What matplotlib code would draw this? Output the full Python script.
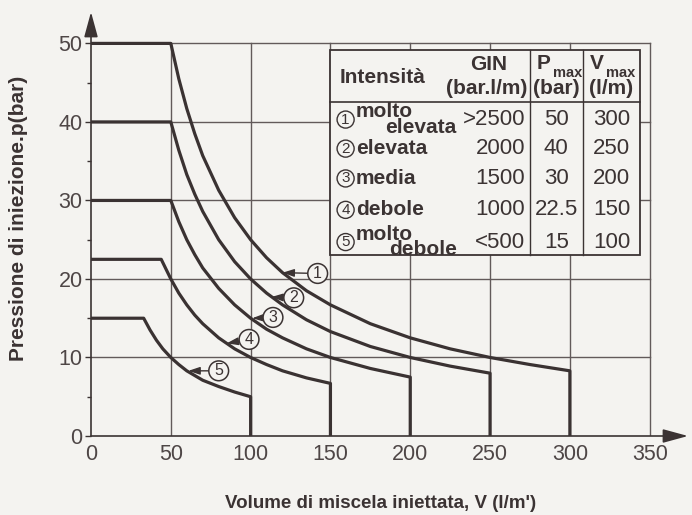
import matplotlib
matplotlib.use("Agg")
import matplotlib.pyplot as plt
from matplotlib.patches import Rectangle

plt.rcParams['font.family'] = ['Liberation Sans', 'DejaVu Sans']

# curves: V (l/m) and p (bar)
v1 = [0, 50, 55, 60, 65, 70, 80, 90, 100, 110, 120, 135, 150, 175, 200, 225, 250, 275, 300, 300]
p1 = [50, 50, 45.5, 41.7, 38.5, 35.7, 31.3, 27.8, 25, 22.7, 20.8, 18.5, 16.7, 14.3, 12.5, 11.1, 10, 9.1, 8.3, 0]
v2 = [0, 50, 55, 60, 65, 70, 80, 90, 100, 110, 120, 135, 150, 175, 200, 225, 250, 250]
p2 = [40, 40, 36.4, 33.3, 30.8, 28.6, 25, 22.2, 20, 18.2, 16.7, 14.8, 13.3, 11.4, 10, 8.9, 8, 0]
v3 = [0, 50, 55, 60, 65, 70, 80, 90, 100, 110, 120, 135, 150, 175, 200, 200]
p3 = [30, 30, 27.3, 25, 23.1, 21.4, 18.8, 16.7, 15, 13.6, 12.5, 11.1, 10, 8.6, 7.5, 0]
v4 = [0, 44, 50, 55, 60, 65, 70, 80, 90, 100, 110, 120, 135, 150, 150]
p4 = [22.5, 22.5, 20, 18.2, 16.7, 15.4, 14.3, 12.5, 11.1, 10, 9.1, 8.3, 7.4, 6.7, 0]
v5 = [0, 33, 37, 41, 45, 50, 55, 60, 70, 80, 90, 100, 100]
p5 = [15, 15, 13.5, 12.2, 11.1, 10, 9.1, 8.3, 7.1, 6.3, 5.6, 5, 0]

# table content
row_nums = ['1', '2', '3', '4', '5']
intensity_top = ['molto', '', '', '', 'molto']
intensity = ['elevata', 'elevata', 'media', 'debole', 'debole']
gin = ['>2500', '2000', '1500', '1000', '<500']
pmax = ['50', '40', '30', '22.5', '15']
vmax = ['300', '250', '200', '150', '100']

# curve label positions (circle, arrow tip)
lab_circle = [(142, 20.7), (127, 17.6), (114, 15.1), (99, 12.3), (80, 8.3)]
lab_tip = [(120, 20.8), (113, 17.7), (101, 15.0), (85, 11.8), (61, 8.3)]

xticks = [0, 50, 100, 150, 200, 250, 300, 350]
yticks = [0, 10, 20, 30, 40, 50]

ink = '#3b3333'
grey = '#4e4646'
bg = '#f4f3f0'

fig = plt.figure(figsize=(6.92, 5.15), dpi=100, facecolor=bg)
ax = fig.add_axes([91 / 692, 79 / 515, 597 / 692, 424 / 515])
ax.set_facecolor(bg)
ax.set_xlim(0, 374)
ax.set_ylim(0, 54)
for s in ax.spines.values():
    s.set_visible(False)

# grid
for x in xticks[1:]:
    ax.plot([x, x], [0, 50], color='#625a5a', lw=1.0, zorder=1)
for y in yticks[1:]:
    ax.plot([0, 350], [y, y], color='#625a5a', lw=1.0, zorder=1)

# axes with arrows
ax.annotate('', xy=(0, 54), xytext=(0, 0), annotation_clip=False,
            arrowprops=dict(arrowstyle='-|>,head_length=1.1,head_width=0.3', color=ink, lw=1.2,
                            mutation_scale=14, shrinkA=0, shrinkB=0))
ax.annotate('', xy=(374, 0), xytext=(0, 0), annotation_clip=False,
            arrowprops=dict(arrowstyle='-|>,head_length=1.1,head_width=0.3', color=ink, lw=1.2,
                            mutation_scale=14, shrinkA=0, shrinkB=0))

ax.set_xticks(xticks)
ax.set_yticks(yticks)
ax.set_yticks([5, 15, 25, 35, 45], minor=True)
ax.tick_params(axis='x', length=0, pad=6, labelsize=15.5, labelcolor=grey)
ax.tick_params(axis='y', length=4, width=1, color=ink, pad=2, labelsize=15.5, labelcolor=grey)
ax.tick_params(axis='y', which='minor', length=3, width=1, color=ink)

# curves
for v, p in [(v1, p1), (v2, p2), (v3, p3), (v4, p4), (v5, p5)]:
    ax.plot(v, p, color='#3a3232', lw=2.3, solid_joinstyle='round', zorder=3)

# curve labels
for n, (c, t) in zip(row_nums, zip(lab_circle, lab_tip)):
    ax.annotate(n, xy=t, xytext=c, ha='center', va='center', fontsize=11.5, color=ink,
                bbox=dict(boxstyle='circle,pad=0.15', fc=bg, ec=ink, lw=1.1),
                arrowprops=dict(arrowstyle='-|>,head_length=0.6,head_width=0.2', color=ink,
                                lw=1.0, shrinkA=0, shrinkB=0), zorder=4)

# table
tl, tr, tt, tb, th = 150, 344, 49.1, 23.0, 42.5
c1, c2 = 275, 308
ax.add_patch(Rectangle((tl, tb), tr - tl, tt - tb, fc=bg, ec=ink, lw=1.3, zorder=5))
ax.plot([tl, tr], [th, th], color=ink, lw=1.2, zorder=6)
ax.plot([c1, c1], [tb, tt], color=ink, lw=1.0, zorder=6)
ax.plot([c2, c2], [tb, tt], color=ink, lw=1.0, zorder=6)

hd = dict(color=ink, fontweight='bold', fontsize=15, zorder=7, va='center')
sub = dict(color=ink, fontweight='bold', fontsize=10.5, zorder=7, va='center', ha='center')
ax.text(156, 45.6, 'Intensità', ha='left', **hd)
ax.text(249, 47.3, 'GIN', ha='center', **hd)
ax.text(273.5, 44.3, '(bar.l/m)', ha='right', **hd)
ax.text(283.5, 47.4, 'P', ha='center', **hd)
ax.text(298.5, 46.2, 'max', **sub)
ax.text(291.5, 44.3, '(bar)', ha='center', **hd)
ax.text(317, 47.4, 'V', ha='center', **hd)
ax.text(332, 46.2, 'max', **sub)
ax.text(326, 44.3, '(l/m)', ha='center', **hd)

row_y = [40.3, 36.6, 32.8, 28.8, 24.7]
nm = dict(color=ink, fontsize=16, zorder=7, va='center')
for i, y in enumerate(row_y):
    ax.text(159.5, y, row_nums[i], ha='center', fontsize=11, color=ink, va='center', zorder=7,
            bbox=dict(boxstyle='circle,pad=0.1', fc=bg, ec=ink, lw=1.0))
    if intensity_top[i]:
        ax.text(166, y + 1.0, intensity_top[i], ha='left', **hd)
        ax.text(229, y - 1.0, intensity[i], ha='right', **hd)
    else:
        ax.text(166, y, intensity[i], ha='left', **hd)
    ax.text(272, y, gin[i], ha='right', **nm)
    ax.text(291.5, y, pmax[i], ha='center', **nm)
    ax.text(326, y, vmax[i], ha='center', **nm)

fig.text(381 / 692, 1 - 503 / 515, "Volume di miscela iniettata, V (l/m')", ha='center', va='center',
         fontsize=13.5, fontweight='bold', color=ink)
fig.text(19 / 692, 1 - 218 / 515, 'Pressione di iniezione.p(bar)', ha='center', va='center',
         rotation=90, fontsize=15, fontweight='bold', color=ink)

fig.savefig('out.png', dpi=100, facecolor=bg)
